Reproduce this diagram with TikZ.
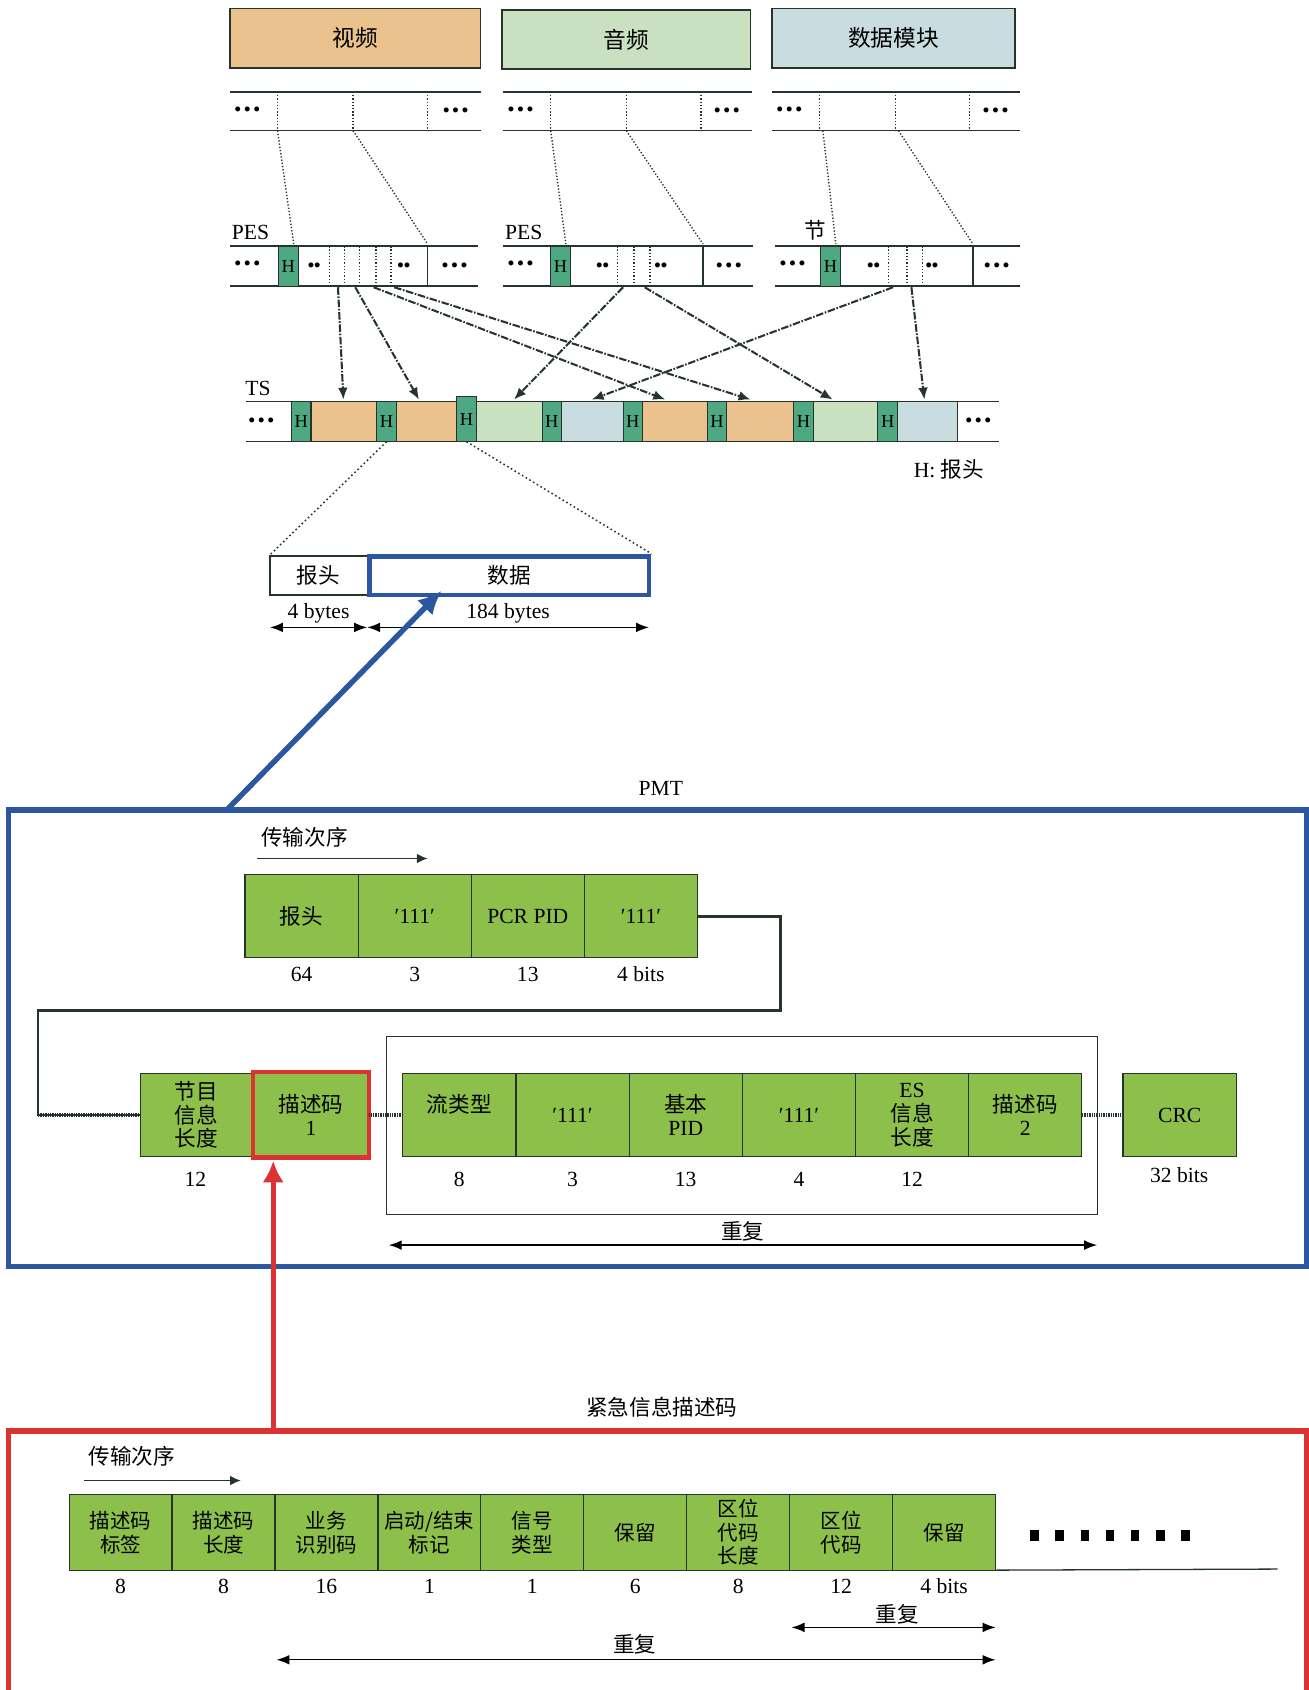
\documentclass[tikz,border=0pt]{standalone}
\usepackage{fontspec}
\setmainfont{Liberation Serif}
\newfontfamily\cjk{Noto Sans CJK SC}
\usetikzlibrary{arrows,arrows.meta,calc,positioning}

\newcommand{\zh}[1]{{\cjk #1}}
\newcommand{\dotz}{\textbullet\,\textbullet\,\textbullet}
\newcommand{\dotd}{\textbullet\textbullet}

\definecolor{vidorange}{HTML}{EBC18E}
\definecolor{audgreen}{HTML}{C9E0C1}
\definecolor{datblue}{HTML}{C9DDE1}
\definecolor{hdrteal}{HTML}{4EA983}
\definecolor{cellgreen}{HTML}{8CC04B}
\definecolor{pmtblue}{HTML}{2B57A0}
\definecolor{emred}{HTML}{DB3232}
\definecolor{rimdark}{HTML}{263529}

\tikzset{
  srcbox/.style={draw=rimdark, line width=1.6pt, inner sep=0pt, minimum height=55, font=\cjk\fontsize{21}{24}\selectfont},
  barline/.style={rimdark, line width=1.4pt},
  tickline/.style={rimdark, dash pattern=on 1.2pt off 1.8pt, line width=1.3pt},
  hbox/.style={fill=hdrteal, draw=rimdark, line width=1pt, inner sep=0pt, outer sep=0pt, minimum width=18, minimum height=37, font=\fontsize{17}{17}\selectfont},
  dotsty/.style={inner sep=0pt, font=\bfseries\fontsize{17}{17}\selectfont},
  feed/.style={rimdark, dash pattern=on 7pt off 1.5pt on 1.5pt off 1.5pt, line width=1.9pt, -{Latex[length=11pt,width=9pt]}},
  spread/.style={rimdark, dash pattern=on 1.5pt off 2.5pt, line width=1.4pt},
  cell/.style={fill=cellgreen, draw=rimdark, line width=1.1pt, inner sep=0pt, outer sep=0pt, align=center, font=\fontsize{20}{22}\selectfont},
  zhcell/.style={cell, font=\cjk\fontsize{19}{22}\selectfont},
  bitlbl/.style={font=\fontsize{20}{20}\selectfont, inner sep=0pt},
  txt/.style={font=\fontsize{20}{20}\selectfont, inner sep=0pt},
  zhtxt/.style={font=\cjk\fontsize{20}{20}\selectfont, inner sep=0pt},
  dimarr/.style={black, line width=1.3pt, <->, >={Latex[length=12pt,width=9pt]}},
  ordarr/.style={rimdark, line width=1.3pt, -{Latex[length=10pt,width=9pt]}},
  beads/.style={rimdark, line width=3pt, dash pattern=on 0.8pt off 0.8pt},
  linkline/.style={rimdark, line width=2.4pt},
}

\begin{document}
\begin{tikzpicture}[x=1pt,y=-1pt]
\useasboundingbox (0,0) rectangle (1212,1565);

% the three sources
\node[srcbox, fill=vidorange, minimum width=232] (video) at (329,35.5) {视频};
\node[srcbox, fill=audgreen, minimum width=230] (audio) at (580,36.5) {音频};
\node[srcbox, fill=datblue, minimum width=225] (data) at (827.5,35.5) {数据模块};

% elementary streams
\foreach \base/\len/\nm in {213/232/v, 466/230/a, 715/230/d}
{
  \draw[barline] (\base,85) -- ++(\len,0) (\base,121) -- ++(\len,0);
  \foreach \dx in {44,114,183} \draw[tickline] (\base+\dx,85) -- (\base+\dx,121);
  \node[dotsty] (\nm-el) at (\base+16,103) {\dotz};
  \node[dotsty] (\nm-er) at (\base+\len-23,104) {\dotz};
}

% PES / section rows
\foreach \base/\len/\nm/\hx/\cut in {213/230/v/45/183, 466/231/a/44/185, 718/227/d/42/183}
{
  \draw[barline] (\base,228) -- ++(\len,0) (\base,265) -- ++(\len,0);
  \node[hbox, anchor=north west] (\nm-h) at (\base+\hx,228) {H};
  \draw[barline, line width=1.2pt] (\base+\cut,228) -- (\base+\cut,265);
  \node[dotsty] (\nm-pl) at (\base+16,246) {\dotz};
  \node[dotsty] (\nm-pr) at (\base+\len-22,247) {\dotz};
  \coordinate (\nm-c1) at (\base+\hx+14,226);
  \coordinate (\nm-c2) at (\base+\cut,226);
  \draw[tickline] (\base+44,121) -- (\nm-c1);
  \draw[tickline] (\base+114,121) -- (\nm-c2);
}
\foreach \x in {305,319,333,348,362, 572,587,602, 823,840,854}
  \draw[tickline] (\x,228) -- (\x,265);
\foreach \x [count=\ni] in {291,374, 558,612, 809,863}
  \node[dotsty] (pd\ni) at (\x,247) {\dotd};

\node[txt] (pes1) at (232,215) {PES};
\node[txt] (pes2) at (485,215) {PES};
\node[zhtxt] (sect) at (755,213) {节};

% transport stream
\draw[barline] (228,372) -- (925,372) (228,409) -- (925,409);
\node[dotsty] (ts-l) at (242,391) {\dotz};
\node[dotsty] (ts-r) at (906,391) {\dotz};
\foreach \xa/\xb/\col [count=\ni] in {288/349/vidorange, 367/423/vidorange, 441/502/audgreen, 520/577/datblue, 595/655/vidorange, 673/735/vidorange, 753/813/audgreen, 831/887/datblue}
{
  \pgfmathsetmacro\w{\xb-\xa}
  \node[fill=\col, draw=rimdark, line width=0.8pt, inner sep=0pt, outer sep=0pt, minimum width=\w, minimum height=37, anchor=north west] (ts\ni) at (\xa,372) {};
}
\foreach \xh/\hh [count=\ni] in {270/37, 349/37, 423/42, 502/37, 577/37, 655/37, 735/37, 813/37}
  \node[hbox, anchor=south west, minimum height=\hh] (tsh\ni) at (\xh,409) {H};
\node[txt] (ts-t) at (239,360) {TS};
\node[txt, anchor=west] (hkey) at (846,435) {H: \zh{报头}};

% packets into the TS
\foreach \nm/\xs/\xe in {a1/313/318, a2/329/388, a3/346/616, a4/365/695, b1/577/476, b2/597/771, c1/827/548, c2/844/856}
{
  \coordinate (\nm-s) at (\xs,266);
  \coordinate (\nm-e) at (\xe,370);
  \draw[feed] (\nm-s) -- (\nm-e);
}

% one TS packet
\node[draw=rimdark, line width=1.2pt, minimum width=90, minimum height=36, inner sep=0pt, font=\cjk\fontsize{20}{20}\selectfont] (pkhdr) at (295,533) {报头};
\node[draw=pmtblue, line width=4.5pt, minimum width=259, minimum height=36, inner sep=0pt, font=\cjk\fontsize{20}{20}\selectfont] (pkdata) at (471.5,533) {数据};
\draw[spread] (tsh2.south) -- (pkhdr.north west);
\draw[spread] (tsh3.south) -- (pkdata.north east);
\coordinate (dm0) at (250,581);
\coordinate (dm1) at (340,581);
\coordinate (dm2) at (601,581);
\draw[dimarr] (dm0) -- (dm1) node[midway, above=3pt, bitlbl] (hdrlen) {4 bytes};
\draw[dimarr] (dm1) -- (dm2) node[midway, above=3pt, bitlbl] (datalen) {184 bytes};

% PMT frame
\node[draw=pmtblue, line width=5pt, minimum width=1202, minimum height=423, inner sep=0pt] (pmt) at (609,961.5) {};
\node[txt] (pmt-t) at (612,730) {PMT};
\coordinate (pmt-in) at (210,750);
\coordinate (data-in) at (409,547);
\draw[pmtblue, line width=5pt, -{Latex[length=22pt,width=20pt]}] (pmt-in) -- (data-in);

\node[zhtxt] (ord1) at (282,775) {传输次序};
\coordinate (ord1-a) at (238,795);
\coordinate (ord1-b) at (396,795);
\draw[ordarr] (ord1-a) -- (ord1-b);

\foreach \txt/\bits [count=\ni] in {{\zh{报头}}/64, ′111′/3, PCR PID/13, ′111′/4 bits}
{
  \pgfmathsetmacro\cx{227+52.25+(\ni-1)*104.75}
  \node[cell, minimum width=104.75, minimum height=77] (top\ni) at (\cx,848.5) {\txt};
  \node[bitlbl] (topb\ni) at (\cx,902) {\bits};
}

% second PMT row
\node[cell, minimum width=104, minimum height=77] (info) at (182,1032.5) {\zh{节目}\\\zh{信息}\\\zh{长度}};
\node[bitlbl] (infob) at (181,1092) {12};
\node[draw=rimdark, line width=1pt, minimum width=658, minimum height=165, inner sep=0pt] (rep) at (687,1042.5) {};
\foreach \txt/\bits [count=\ni] in {{\zh{流类型}\\\phantom{1}}/8, ′111′/3, {\zh{基本}\\PID}/13, ′111′/4, {ES\\\zh{信息}\\\zh{长度}}/12, {\zh{描述码}\\2}/{}}
{
  \pgfmathsetmacro\cx{373+52.4+(\ni-1)*104.8}
  \node[cell, minimum width=104.8, minimum height=77] (es\ni) at (\cx,1032.5) {\txt};
  \node[bitlbl] (esb\ni) at (\cx,1092) {\bits};
}
\node[cell, minimum width=105, minimum height=77] (crc) at (1092.5,1032.5) {CRC};
\node[bitlbl] (crcb) at (1092,1088) {32 bits};
\node[cell, draw=emred, line width=4pt, minimum width=108, minimum height=79] (desc1) at (288,1032.5) {\zh{描述码}\\1};

\coordinate (bendR) at (723,936);
\coordinate (bendL) at (35,936);
\draw[linkline] (top4.east) -| (bendR) -- (bendL) |- (info.west);
\draw[beads] (bendL |- info.west) -- (info.west);
\draw[beads] (desc1.east) -- (es1.west);
\draw[beads] (es6.east) -- (crc.west);

\node[zhtxt] (rep-t) at (688,1140) {重复};
\coordinate (rep-a) at (360,1153);
\coordinate (rep-b) at (1016,1153);
\draw[dimarr] (rep-a) -- (rep-b);

% emergency descriptor
\node[zhtxt] (em-t) at (613,1303) {紧急信息描述码};
\draw[emred, line width=5pt] (8,1580) -- (8,1325) -- (1210,1325) -- (1210,1580);
\coordinate (em-out) at (253,1327);
\coordinate (em-tip) at (253,1075);
\draw[emred, line width=5pt, -{Latex[length=20pt,width=20pt]}] (em-out) -- (em-tip);

\node[zhtxt] (ord2) at (122,1349) {传输次序};
\coordinate (ord2-a) at (78,1371);
\coordinate (ord2-b) at (223,1371);
\draw[ordarr] (ord2-a) -- (ord2-b);

\foreach \txt/\bits [count=\ni] in {{描述码\\标签}/8, {描述码\\长度}/8, {业务\\识别码}/16, {启动/结束\\标记}/1, {信号\\类型}/1, 保留/6, {区位\\代码\\长度}/8, {区位\\代码}/12, 保留/4 bits}
{
  \pgfmathsetmacro\cx{64+47.67+(\ni-1)*95.33}
  \node[zhcell, minimum width=95.33, minimum height=70] (em\ni) at (\cx,1419) {\txt};
  \node[bitlbl] (emb\ni) at (\cx,1469) {\bits};
}
\coordinate (tail) at (1183,1453);
\draw[rimdark, line width=1.2pt] (em9.south east) -- (tail);
\foreach \k in {0,...,6}
  \fill[black] (954+\k*23.3,1417) rectangle ++(8,10);

\node[zhtxt] (rep2-t) at (831,1495) {重复};
\coordinate (rep2-a) at (733,1507);
\coordinate (rep2-b) at (922,1507);
\draw[dimarr] (rep2-a) -- (rep2-b);
\node[zhtxt] (rep3-t) at (588,1523) {重复};
\coordinate (rep3-a) at (256,1537);
\coordinate (rep3-b) at (922,1537);
\draw[dimarr] (rep3-a) -- (rep3-b);

\end{tikzpicture}
\end{document}
